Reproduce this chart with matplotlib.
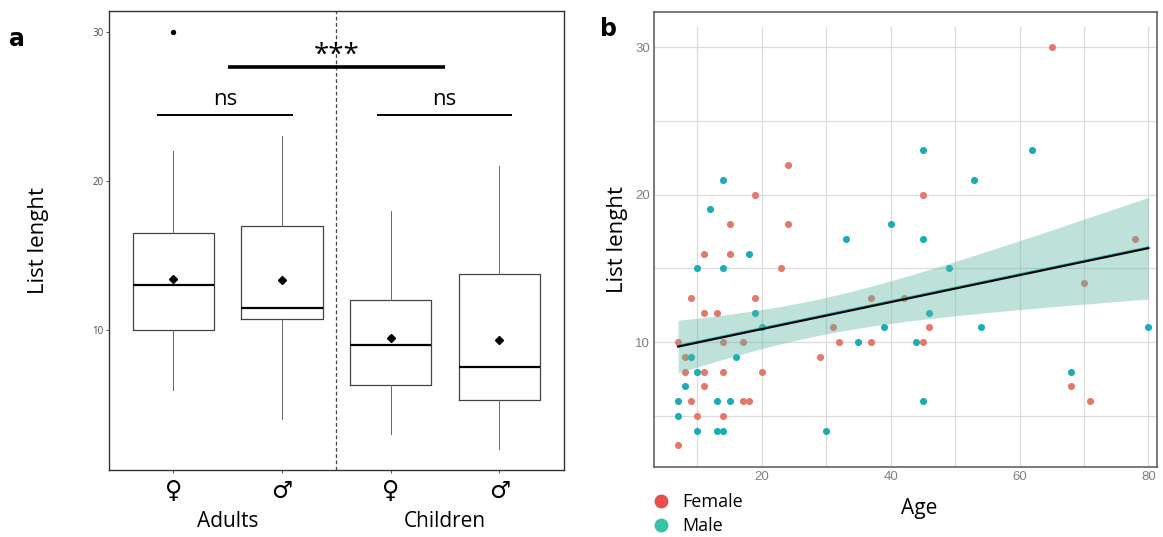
import matplotlib
matplotlib.use('Agg')
import matplotlib.pyplot as plt
from matplotlib.lines import Line2D
import numpy as np

plt.rcParams['font.family'] = ['Open Sans', 'DejaVu Sans']

# Panel a: box statistics per group (Adults F, Adults M, Children F, Children M)
group_pos = [1, 2, 3, 4]
group_ticks = ['\u2640', '\u2642', '\u2640', '\u2642']
q1 = [10.0, 10.75, 6.3, 5.3]
medians = [13.0, 11.5, 9.0, 7.5]
q3 = [16.5, 17.0, 12.0, 13.75]
whisk_lo = [6, 4, 3, 2]
whisk_hi = [22, 23, 18, 21]
means = [13.45, 13.35, 9.45, 9.35]
outliers = [[30], [], [], []]

# Panel b: age vs list length, by sex
female_age = [7, 7, 8, 8, 9, 9, 10, 11, 11, 11, 11, 13, 14, 14, 14, 15, 15, 17, 17, 18,
              19, 19, 20, 23, 24, 24, 29, 31, 32, 37, 37, 42, 45, 45, 46, 65, 68, 70, 71, 78]
female_len = [3, 10, 9, 8, 6, 13, 5, 8, 7, 12, 16, 12, 10, 8, 5, 18, 16, 10, 6, 6,
              20, 13, 8, 15, 22, 18, 9, 11, 10, 10, 13, 13, 20, 10, 11, 30, 7, 14, 6, 17]
male_age = [7, 7, 8, 9, 10, 10, 10, 12, 13, 13, 14, 14, 14, 15, 16, 18, 19, 20,
            30, 33, 35, 39, 40, 44, 45, 45, 45, 46, 49, 53, 54, 62, 68, 80]
male_len = [6, 5, 7, 9, 8, 4, 15, 19, 6, 4, 4, 15, 21, 6, 9, 16, 12, 11,
            4, 17, 10, 11, 18, 10, 23, 17, 6, 12, 15, 21, 11, 23, 8, 11]

fig = plt.figure(figsize=(11.63, 5.37), dpi=100)

# ---------------- panel a ----------------
ax1 = fig.add_axes([0.0933, 0.1242, 0.3919, 0.8553])
stats = []
for i in range(4):
    stats.append(dict(q1=q1[i], med=medians[i], q3=q3[i], whislo=whisk_lo[i],
                      whishi=whisk_hi[i], mean=means[i], fliers=outliers[i]))
ax1.bxp(stats, positions=group_pos, widths=0.75, showmeans=True, showcaps=False,
        patch_artist=False,
        boxprops=dict(color='#444444', linewidth=0.9),
        whiskerprops=dict(color='#666666', linewidth=0.7),
        medianprops=dict(color='black', linewidth=1.6),
        meanprops=dict(marker='D', markerfacecolor='black', markeredgecolor='black', markersize=3.8),
        flierprops=dict(marker='o', markerfacecolor='black', markeredgecolor='black', markersize=2.8))

ax1.axvline(2.5, color='#444444', linestyle=(0, (3, 2)), linewidth=0.9)

# significance bars
ax1.plot([1.5, 3.5], [27.64, 27.64], color='black', linewidth=2.6, solid_capstyle='butt')
ax1.text(2.5, 27.45, '***', ha='center', va='bottom', fontsize=20)
ax1.plot([0.86, 2.09], [24.43, 24.43], color='black', linewidth=1.4)
ax1.plot([2.88, 4.11], [24.43, 24.43], color='black', linewidth=1.4)
ax1.text(1.475, 24.75, 'ns', ha='center', va='bottom', fontsize=16)
ax1.text(3.495, 24.75, 'ns', ha='center', va='bottom', fontsize=16)

ax1.set_xlim(0.404, 4.598)
ax1.set_ylim(0.59, 31.4)
ax1.set_yticks([10, 20, 30])
ax1.set_xticks(group_pos)
ax1.set_xticklabels(group_ticks, fontsize=17, family=['DejaVu Sans'])
ax1.tick_params(axis='y', labelsize=7, labelcolor='#4D4D4D', length=2.5, width=0.6,
                color='#333333', pad=1)
ax1.tick_params(axis='x', length=2.5, width=0.6, color='#333333', pad=4)
for s in ax1.spines.values():
    s.set_color('#333333')
    s.set_linewidth(1.0)
ax1.set_ylabel('List lenght', fontsize=16, va='center')
ax1.yaxis.set_label_coords(-0.153, 0.5)
ax1.text(1.5, -0.112, 'Adults', transform=ax1.get_xaxis_transform(),
         ha='center', va='center', fontsize=15)
ax1.text(3.5, -0.112, 'Children', transform=ax1.get_xaxis_transform(),
         ha='center', va='center', fontsize=15)
fig.text(17 / 1163, 1 - 39 / 537, 'a', fontsize=17, fontweight='bold',
         ha='center', va='center', family=['DejaVu Sans'])

# ---------------- panel b ----------------
ax2 = fig.add_axes([0.5626, 0.1309, 0.4320, 0.8473])
fem_color = '#E5786D'
male_color = '#1AADB5'
ax2.scatter(female_age, female_len, s=26, color=fem_color, zorder=3, linewidths=0)
ax2.scatter(male_age, male_len, s=26, color=male_color, zorder=3, linewidths=0)

# linear fit with 95% confidence band on all points
all_age = np.array(female_age + male_age, dtype=float)
all_len = np.array(female_len + male_len, dtype=float)
n = len(all_age)
slope, intercept = np.polyfit(all_age, all_len, 1)
resid = all_len - (slope * all_age + intercept)
s_err = np.sqrt(np.sum(resid ** 2) / (n - 2))
sxx = np.sum((all_age - all_age.mean()) ** 2)
xs = np.linspace(all_age.min(), all_age.max(), 100)
ys = slope * xs + intercept
half = 1.993 * s_err * np.sqrt(1 / n + (xs - all_age.mean()) ** 2 / sxx)
ax2.fill_between(xs, ys - half, ys + half, color='#5DB5A0', alpha=0.4, linewidth=0, zorder=4)
ax2.plot(xs, ys + 0.06, color='#22B5B0', linewidth=1.5, zorder=5)
ax2.plot(xs, ys, color='black', linewidth=1.5, zorder=6)

# grid
grid_top = 31.4
for gx in range(10, 81, 10):
    ax2.plot([gx, gx], [1.56, grid_top], color='#DCDCDC', linewidth=0.9, zorder=1)
for gy in range(5, 31, 5):
    ax2.axhline(gy, color='#DCDCDC', linewidth=0.9, zorder=1)

ax2.set_xlim(3.3, 81.3)
ax2.set_ylim(1.56, 32.41)
ax2.set_xticks([20, 40, 60, 80])
ax2.set_yticks([10, 20, 30])
ax2.tick_params(labelsize=9.5, labelcolor='#808080', length=0, pad=3)
for lab in ax2.get_xticklabels() + ax2.get_yticklabels():
    lab.set_family(['Liberation Sans', 'DejaVu Sans'])
for s in ax2.spines.values():
    s.set_color('#555555')
    s.set_linewidth(1.1)
ax2.set_ylabel('List lenght', fontsize=16, va='center')
ax2.yaxis.set_label_coords(-0.074, 0.5)
ax2.set_xlabel('Age', fontsize=15, va='center')
ax2.xaxis.set_label_coords(0.527, -0.091)
fig.text(608 / 1163, 1 - 29 / 537, 'b', fontsize=17, fontweight='bold',
         ha='center', va='center', family=['DejaVu Sans'])

handles = [Line2D([], [], marker='o', linestyle='', color='#E84D4F', markersize=9),
           Line2D([], [], marker='o', linestyle='', color='#35C4A5', markersize=9)]
fig.legend(handles, ['Female', 'Male'], loc='upper left',
           bbox_to_anchor=(652 / 1163, 1 - 493 / 537), frameon=False, fontsize=13,
           handlelength=1.0, handletextpad=0.7, labelspacing=0.35, borderpad=0,
           borderaxespad=0)

fig.savefig('out.png', dpi=100)
